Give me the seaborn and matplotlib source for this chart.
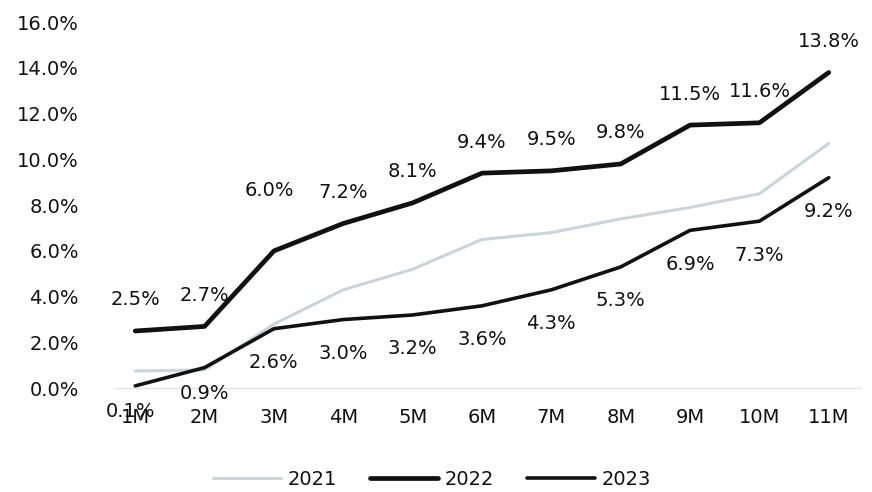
import seaborn as sns
import matplotlib.pyplot as plt
import pandas as pd

months = ['1M', '2M', '3M', '4M', '5M', '6M', '7M', '8M', '9M', '10M', '11M']
y2021 = [0.75, 0.8, 2.8, 4.3, 5.2, 6.5, 6.8, 7.4, 7.9, 8.5, 10.7]
y2022 = [2.5, 2.7, 6.0, 7.2, 8.1, 9.4, 9.5, 9.8, 11.5, 11.6, 13.8]
y2023 = [0.1, 0.9, 2.6, 3.0, 3.2, 3.6, 4.3, 5.3, 6.9, 7.3, 9.2]

df = pd.DataFrame({'month': months, '2021': y2021, '2022': y2022, '2023': y2023})
df['idx'] = range(len(months))

sns.set_style('white')
plt.rcParams['font.family'] = ['DejaVu Sans']
plt.rcParams['text.color'] = '#111111'

fig = plt.figure(figsize=(8.72, 4.92), dpi=100)
ax = fig.add_axes([0.132, 0.211, 0.855, 0.744])

styles = {'2021': ('#c9d5d9', 2.2), '2022': ('#111111', 3.4), '2023': ('#111111', 2.6)}
for name, (color, lw) in styles.items():
    sns.lineplot(data=df, x='idx', y=name, ax=ax, color=color, linewidth=lw, label=name)

fs = 14
# data labels: 2022 above, 2023 below
for i, v in enumerate(y2022):
    dy = 60 if i == 2 else 31
    dx = -5 if i == 2 else 0
    ax.annotate(f'{v:.1f}%', (i, v), xytext=(dx, dy), textcoords='offset pixels',
                ha='center', va='center', fontsize=fs, color='#111111')
for i, v in enumerate(y2023):
    dy = -26 if i < 2 else -34
    dx = -5 if i == 0 else 0
    ax.annotate(f'{v:.1f}%', (i, v), xytext=(dx, dy), textcoords='offset pixels',
                ha='center', va='center', fontsize=fs, color='#111111')

ax.set_ylim(0, 16)
ax.set_xlim(-0.29, 10.46)
ax.set_yticks(range(0, 17, 2))
ax.set_yticklabels([f'{t:.1f}%' for t in range(0, 17, 2)], fontsize=fs)
ax.set_xticks(range(len(months)))
ax.set_xticklabels(months, fontsize=fs)
ax.tick_params(axis='x', pad=14, length=0, labelcolor='#111111')
ax.tick_params(axis='y', pad=26, length=0, labelcolor='#111111')
ax.set_xlabel('')
ax.set_ylabel('')
for s in ['top', 'right', 'left']:
    ax.spines[s].set_visible(False)
ax.spines['bottom'].set_color('#dde3e6')
ax.spines['bottom'].set_linewidth(1)

ax.legend(loc='upper center', bbox_to_anchor=(0.425, -0.175), ncol=3, frameon=False,
          fontsize=fs, handlelength=3.5, handletextpad=0.35, columnspacing=1.7)

fig.savefig('out.png', dpi=100)
